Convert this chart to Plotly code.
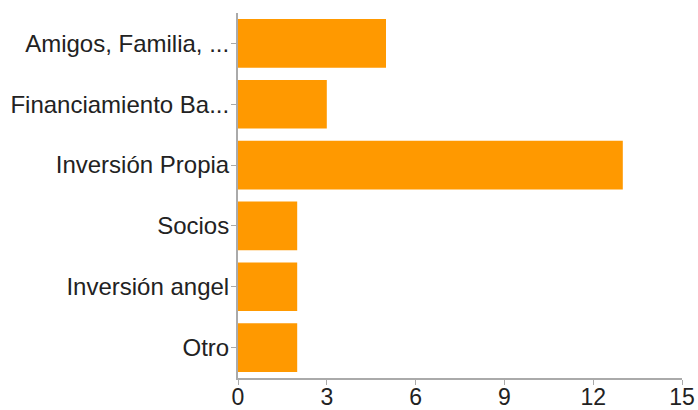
import plotly.graph_objects as go

categories = ["Amigos, Familia, ...", "Financiamiento Ba...", "Inversión Propia", "Socios", "Inversión angel", "Otro"]
values = [5, 3, 13, 2, 2, 2]
x_ticks = [0, 3, 6, 9, 12, 15]

fig = go.Figure(go.Bar(
    x=values, y=categories, orientation="h",
    marker=dict(color="#FF9900", line=dict(width=0)),
))
fig.update_layout(
    width=698, height=410,
    margin=dict(l=238, r=16, t=13, b=32, autoexpand=False),
    paper_bgcolor="white", plot_bgcolor="white",
    bargap=0.2,
    showlegend=False,
    font=dict(family="Liberation Sans, Arial, sans-serif", size=24, color="#222222"),
)
fig.update_xaxes(
    range=[0, 15], tickvals=x_ticks, showgrid=False, zeroline=False,
    showline=True, linecolor="#aaaaaa", linewidth=2,
    ticks="outside", ticklen=5, tickcolor="#aaaaaa", tickwidth=1,
    ticklabelstandoff=-8, tickfont=dict(size=23),
)
fig.update_yaxes(
    autorange="reversed", showgrid=False, zeroline=False,
    showline=True, linecolor="#aaaaaa", linewidth=2,
    ticks="outside", ticklen=5, tickcolor="#aaaaaa", tickwidth=1,
    ticklabelstandoff=-3,
)
fig.write_html("out.html")
